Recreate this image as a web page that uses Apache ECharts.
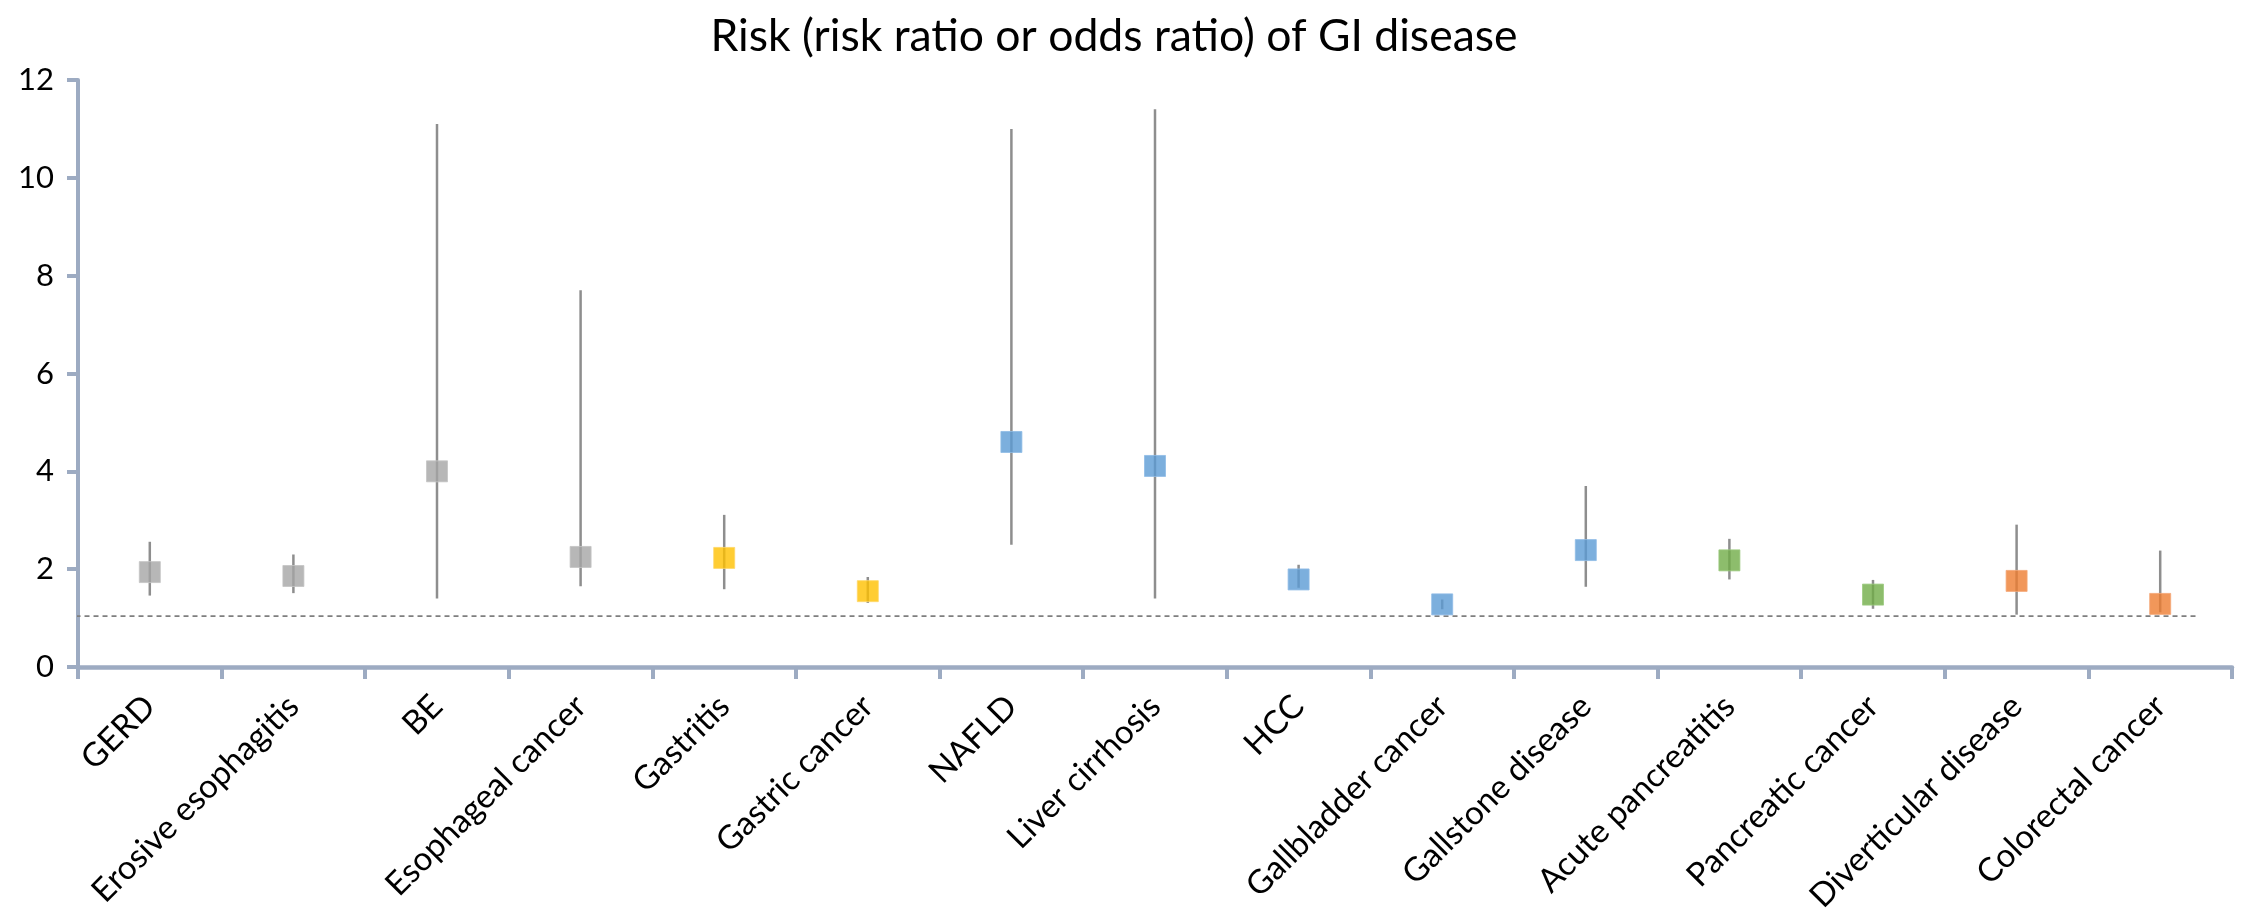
<!DOCTYPE html>
<html>
<head>
<meta charset="utf-8">
<script src="https://cdn.jsdelivr.net/npm/echarts@6/dist/echarts.min.js"></script>
<style>
  html, body { margin: 0; padding: 0; background: #ffffff; }
  #chart { width: 2246px; height: 923px; }
</style>
</head>
<body>
<div id="chart"></div>
<script>
// Conditions on the x axis
const categories = [
  'GERD', 'Erosive esophagitis', 'BE', 'Esophageal cancer', 'Gastritis',
  'Gastric cancer', 'NAFLD', 'Liver cirrhosis', 'HCC', 'Gallbladder cancer',
  'Gallstone disease', 'Acute pancreatitis', 'Pancreatic cancer',
  'Diverticular disease', 'Colorectal cancer'
];
// Point estimate of the risk for each condition
const estimate = [1.94, 1.86, 4.00, 2.25, 2.23, 1.55, 4.60, 4.11, 1.79, 1.28, 2.39, 2.18, 1.48, 1.76, 1.29];
// Confidence interval bounds
const lower = [1.46, 1.51, 1.40, 1.65, 1.59, 1.31, 2.50, 1.40, 1.62, 1.18, 1.64, 1.79, 1.19, 1.07, 1.12];
const upper = [2.56, 2.30, 11.10, 7.70, 3.11, 1.84, 11.00, 11.40, 2.09, 1.38, 3.70, 2.62, 1.78, 2.91, 2.38];
// Organ group of each condition (selects the marker colour)
const groups = ['esophagus', 'esophagus', 'esophagus', 'esophagus', 'stomach', 'stomach',
  'liver', 'liver', 'liver', 'liver', 'liver', 'pancreas', 'pancreas', 'colon', 'colon'];
// y axis tick values
const yTicks = [0, 2, 4, 6, 8, 10, 12];
// Null reference line (value and horizontal extent in category units)
const refValue = 1.04;
const refExtent = [-0.08, 14.76];

const groupColors = {
  esophagus: '#A5A5A5',
  stomach: '#FFC000',
  liver: '#5B9BD5',
  pancreas: '#70AD47',
  colon: '#ED7D31'
};
const groupBorders = {
  esophagus: '#C4C4C4',
  stomach: '#FFD766',
  liver: '#8FBCE6',
  pancreas: '#9CCB81',
  colon: '#F4A877'
};

const axisColor = '#9DABC2';
const font = 'Lato, "Liberation Sans", sans-serif';

const chart = echarts.init(document.getElementById('chart'), null, { renderer: 'canvas' });

chart.setOption({
  backgroundColor: '#ffffff',
  animation: false,
  title: {
    text: 'Risk (risk ratio or odds ratio) of GI disease',
    left: 1109,
    top: 9,
    textAlign: 'center',
    textStyle: { fontFamily: font, fontSize: 44.5, fontWeight: 'normal', color: '#000000' }
  },
  grid: { left: 78, right: 14, top: 80, bottom: 256, outerBoundsMode: 'none' },
  xAxis: [
    {
      type: 'category',
      data: categories,
      boundaryGap: true,
      axisLine: { lineStyle: { color: axisColor, width: 4.5 } },
      axisTick: { show: true, length: 12, lineStyle: { color: axisColor, width: 4 } },
      axisLabel: {
        interval: 0,
        rotate: 45,
        margin: 34,
        fontFamily: font,
        fontSize: 33,
        color: '#000000'
      },
      splitLine: { show: false }
    },
    {
      type: 'value',
      min: 0,
      max: categories.length,
      show: false
    }
  ],
  yAxis: {
    type: 'value',
    min: yTicks[0],
    max: yTicks[yTicks.length - 1],
    interval: yTicks[1] - yTicks[0],
    axisLine: { show: true, lineStyle: { color: axisColor, width: 4 } },
    axisTick: { show: true, length: 11, lineStyle: { color: axisColor, width: 4 } },
    axisLabel: { margin: 24, fontFamily: font, fontSize: 31, color: '#000000' },
    splitLine: { show: false }
  },
  series: [
    {
      // dashed null line
      type: 'line',
      xAxisIndex: 1,
      clip: false,
      symbol: 'none',
      z: 1,
      lineStyle: { color: '#7F7F7F', width: 1.6, type: [5, 4] },
      data: refExtent.map(x => [x, refValue])
    },
    {
      // confidence interval whiskers
      type: 'custom',
      z: 2,
      encode: { x: 0, y: [1, 2] },
      data: categories.map((c, i) => [i, lower[i], upper[i]]),
      renderItem: function (params, api) {
        const i = api.value(0);
        const lo = api.coord([i, api.value(1)]);
        const hi = api.coord([i, api.value(2)]);
        return {
          type: 'line',
          shape: { x1: lo[0], y1: lo[1], x2: hi[0], y2: hi[1] },
          style: { stroke: '#8E8E8E', lineWidth: 2.5 }
        };
      }
    },
    {
      // point estimates
      type: 'scatter',
      z: 3,
      symbol: 'rect',
      symbolSize: 21,
      data: estimate.map((v, i) => ({
        value: [i, v],
        itemStyle: { color: groupColors[groups[i]], borderColor: groupBorders[groups[i]], borderWidth: 1 }
      }))
    }
  ]
});
</script>
</body>
</html>
